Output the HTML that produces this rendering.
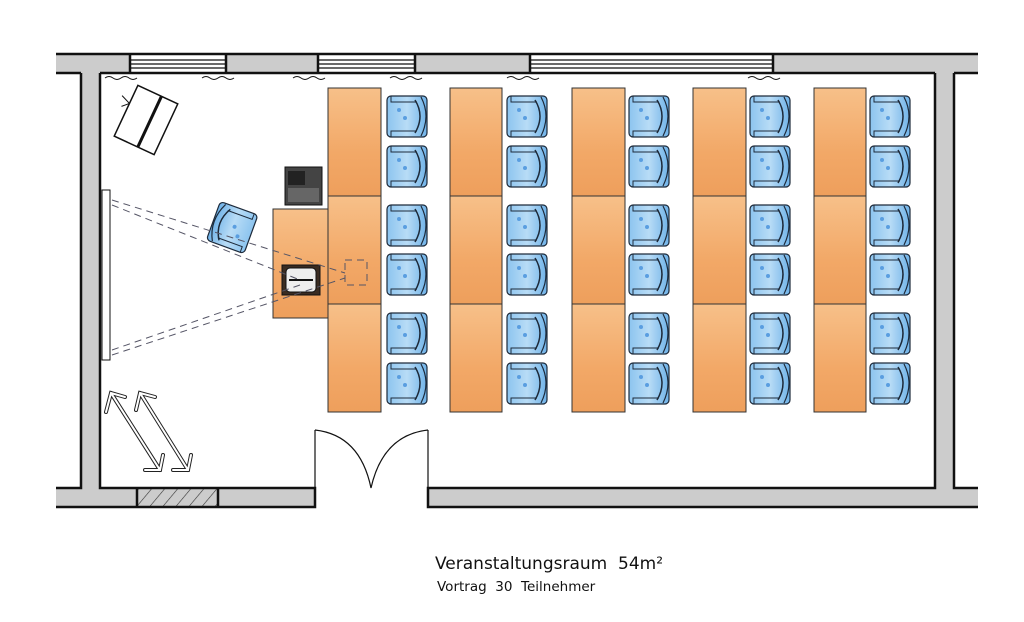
<!DOCTYPE html>
<html><head><meta charset="utf-8"><style>
html,body{margin:0;padding:0;background:#fff;}
svg{display:block;}
text{white-space:pre;}
</style></head><body>
<svg width="1024" height="622" viewBox="0 0 1024 622" xmlns="http://www.w3.org/2000/svg" xml:space="preserve">
<defs>
<linearGradient id="wood" x1="0" y1="0" x2="0" y2="1">
<stop offset="0" stop-color="#f7c089"/><stop offset="0.6" stop-color="#f2a867"/><stop offset="1" stop-color="#ee9f5c"/>
</linearGradient>
<linearGradient id="blue" x1="0" y1="0" x2="1" y2="0">
<stop offset="0" stop-color="#8cc4ef"/><stop offset="0.5" stop-color="#b8dcf6"/><stop offset="1" stop-color="#6fb2e8"/>
</linearGradient>
<g id="chair">
<rect x="2" y="2" width="40" height="41" rx="4" fill="url(#blue)" stroke="#1d2a3a" stroke-width="1.2"/>
<path d="M6 2 V8 H32 M6 43 V37 H32" fill="none" stroke="#1d2a3a" stroke-width="1"/>
<path d="M30 6 Q40 22 30 39" fill="none" stroke="#1d2a3a" stroke-width="1.5"/>
<path d="M36 3 Q46 22 36 42" fill="none" stroke="#1d2a3a" stroke-width="1.2"/>
<circle cx="14" cy="16" r="2" fill="#5a9ee0"/><circle cx="20" cy="24" r="2" fill="#5a9ee0"/>
</g>
<pattern id="hatch" width="10" height="10" patternUnits="userSpaceOnUse" patternTransform="rotate(40)">
<rect width="10" height="10" fill="#ccc"/><line x1="0" y1="0" x2="0" y2="10" stroke="#333" stroke-width="1.2"/>
</pattern>
</defs>

<rect x="56" y="54" width="74" height="19" fill="#ccc"/>
<rect x="226" y="54" width="92" height="19" fill="#ccc"/>
<rect x="415" y="54" width="115" height="19" fill="#ccc"/>
<rect x="773" y="54" width="205" height="19" fill="#ccc"/>
<g stroke="#111" stroke-width="1.2" fill="none">
<path d="M130 60H226M318 60H415M530 60H773M130 64H226M318 64H415M530 64H773M130 68H226M318 68H415M530 68H773"/>
</g>
<g stroke="#111" stroke-width="2.5" fill="none">
<path d="M56 54H978M56 73H81M100 73H935M954 73H978"/>
<path d="M130 54V73M226 54V73M318 54V73M415 54V73M530 54V73M773 54V73"/>
</g>
<rect x="81" y="73" width="19" height="415" fill="#ccc"/>
<rect x="935" y="73" width="19" height="415" fill="#ccc"/>
<rect x="56" y="488" width="259" height="19" fill="#ccc"/>
<rect x="137" y="488" width="81" height="19" fill="url(#hatch)"/>
<rect x="428" y="488" width="550" height="19" fill="#ccc"/>
<g stroke="#111" stroke-width="2.5" fill="none">
<path d="M81 73V488H56M100 73V488H315V507H56"/>
<path d="M935 73V488H428V507H978M954 73V488H978"/>
<path d="M137 488V507M218 488V507"/>
</g>
<g stroke="#111" stroke-width="1.2" fill="none">
<path d="M315 430V488M428 430V488"/>
<path d="M315 430 Q360 435 371 488M428 430 Q383 435 371 488"/>
</g>
<g stroke="#111" stroke-width="1" fill="none">
<path d="M105 78q4-3 8 0t8 0t8 0t8 0"/>
<path d="M202 78q4-3 8 0t8 0t8 0t8 0"/>
<path d="M293 78q4-3 8 0t8 0t8 0t8 0"/>
<path d="M390 78q4-3 8 0t8 0t8 0t8 0"/>
<path d="M507 78q4-3 8 0t8 0t8 0t8 0"/>
<path d="M748 78q4-3 8 0t8 0t8 0t8 0"/>
</g>
<g stroke="#333" stroke-width="1">
<rect x="328" y="88" width="53" height="108" fill="url(#wood)"/><rect x="328" y="196" width="53" height="108" fill="url(#wood)"/><rect x="328" y="304" width="53" height="108" fill="url(#wood)"/>
<rect x="450" y="88" width="52" height="108" fill="url(#wood)"/><rect x="450" y="196" width="52" height="108" fill="url(#wood)"/><rect x="450" y="304" width="52" height="108" fill="url(#wood)"/>
<rect x="572" y="88" width="53" height="108" fill="url(#wood)"/><rect x="572" y="196" width="53" height="108" fill="url(#wood)"/><rect x="572" y="304" width="53" height="108" fill="url(#wood)"/>
<rect x="693" y="88" width="53" height="108" fill="url(#wood)"/><rect x="693" y="196" width="53" height="108" fill="url(#wood)"/><rect x="693" y="304" width="53" height="108" fill="url(#wood)"/>
<rect x="814" y="88" width="52" height="108" fill="url(#wood)"/><rect x="814" y="196" width="52" height="108" fill="url(#wood)"/><rect x="814" y="304" width="52" height="108" fill="url(#wood)"/>
<rect x="273" y="209" width="55" height="109" fill="url(#wood)"/>
</g>
<g>
<use href="#chair" x="385" y="94"/><use href="#chair" x="385" y="144"/><use href="#chair" x="385" y="203"/><use href="#chair" x="385" y="252"/><use href="#chair" x="385" y="311"/><use href="#chair" x="385" y="361"/>
<use href="#chair" x="505" y="94"/><use href="#chair" x="505" y="144"/><use href="#chair" x="505" y="203"/><use href="#chair" x="505" y="252"/><use href="#chair" x="505" y="311"/><use href="#chair" x="505" y="361"/>
<use href="#chair" x="627" y="94"/><use href="#chair" x="627" y="144"/><use href="#chair" x="627" y="203"/><use href="#chair" x="627" y="252"/><use href="#chair" x="627" y="311"/><use href="#chair" x="627" y="361"/>
<use href="#chair" x="748" y="94"/><use href="#chair" x="748" y="144"/><use href="#chair" x="748" y="203"/><use href="#chair" x="748" y="252"/><use href="#chair" x="748" y="311"/><use href="#chair" x="748" y="361"/>
<use href="#chair" x="868" y="94"/><use href="#chair" x="868" y="144"/><use href="#chair" x="868" y="203"/><use href="#chair" x="868" y="252"/><use href="#chair" x="868" y="311"/><use href="#chair" x="868" y="361"/>
<use href="#chair" transform="translate(232 228) rotate(200) translate(-22 -22)"/>
</g>
<rect x="285" y="167" width="37" height="38" fill="#444" stroke="#111"/>
<rect x="288" y="171" width="17" height="14" fill="#222"/>
<rect x="288" y="188" width="31" height="14" fill="#666"/>
<rect x="282" y="265" width="38" height="30" fill="#3a2c22" stroke="#111"/>
<rect x="286" y="268" width="30" height="24" rx="4" fill="#eee" stroke="#111"/>
<path d="M289 280H313" stroke="#111" stroke-width="2"/>
<g stroke="#556" stroke-width="1" stroke-dasharray="7 5" fill="none">
<rect x="345" y="260" width="22" height="25"/>
<path d="M112 200L345 273M112 205L300 280M112 355L345 278M112 350L300 285"/>
<path d="M110 200V355"/>
</g>
<rect x="102" y="190" width="8" height="170" fill="#fff" stroke="#111"/>
<g transform="translate(146 120) rotate(25)">
<rect x="-22" y="-28" width="44" height="56" fill="#fff" stroke="#111" stroke-width="1.5"/>
<path d="M4 -28V28" stroke="#111" stroke-width="3"/>
<path d="M-22 -8L-32 -12M-22 -8L-28 -2" stroke="#111"/>
</g>
<g stroke="#222" stroke-width="4" fill="none" stroke-linecap="round">
<path d="M111 393L160 470M106 412L111 393L125 397M145 470L160 470L163 455"/>
<path d="M140 393L188 470M136 410L140 393L155 397M173 470L188 470L191 455"/>
</g>
<g stroke="#fff" stroke-width="2" fill="none" stroke-linecap="round">
<path d="M111 393L160 470M106 412L111 393L125 397M145 470L160 470L163 455"/>
<path d="M140 393L188 470M136 410L140 393L155 397M173 470L188 470L191 455"/>
</g>
<text x="435" y="569" font-family="'DejaVu Sans','Liberation Sans',sans-serif" font-size="17" fill="#111">Veranstaltungsraum  54m²</text>
<text x="437" y="591" font-family="'DejaVu Sans','Liberation Sans',sans-serif" font-size="13.5" fill="#111">Vortrag  30  Teilnehmer</text>
</svg>
</body></html>
